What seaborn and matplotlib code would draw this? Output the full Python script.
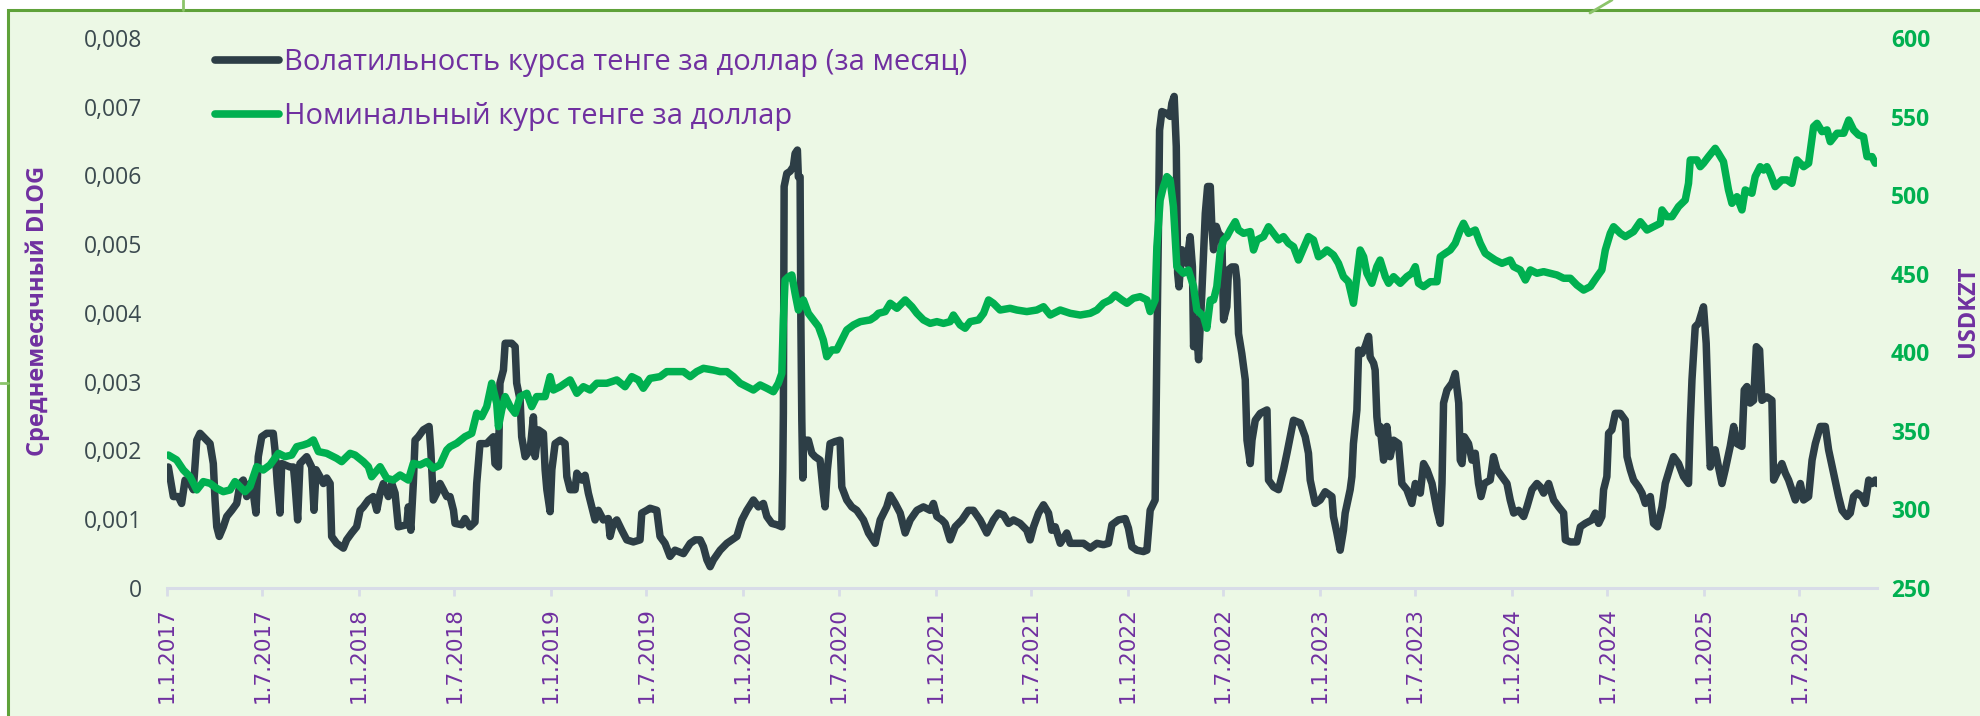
import numpy as np
import pandas as pd
import matplotlib
matplotlib.use("Agg")
import matplotlib.pyplot as plt
import seaborn as sns
from matplotlib.lines import Line2D
from matplotlib.patches import Rectangle

# ---------------- data ----------------
# time in decimal years, volatility in units of 0.001
vol_t = [2017.007, 2017.033, 2017.059, 2017.076, 2017.094, 2017.120, 2017.137, 2017.155, 2017.172, 2017.207,
         2017.224, 2017.241, 2017.250, 2017.259, 2017.272, 2017.293, 2017.311, 2017.337, 2017.363, 2017.380,
         2017.397, 2017.415, 2017.432, 2017.449, 2017.463, 2017.475, 2017.493, 2017.519, 2017.553, 2017.562,
         2017.574, 2017.588, 2017.597, 2017.640, 2017.658, 2017.666, 2017.680, 2017.692, 2017.727, 2017.753,
         2017.765, 2017.776, 2017.796, 2017.814, 2017.831, 2017.849, 2017.857, 2017.883, 2017.918, 2017.935,
         2017.961, 2017.987, 2018.005, 2018.022, 2018.048, 2018.074, 2018.092, 2018.109, 2018.126, 2018.152,
         2018.170, 2018.187, 2018.204, 2018.248, 2018.256, 2018.269, 2018.282, 2018.291, 2018.308, 2018.334,
         2018.364, 2018.373, 2018.386, 2018.404, 2018.421, 2018.438, 2018.456,
         2018.473, 2018.491, 2018.499, 2018.534, 2018.551, 2018.577, 2018.603, 2018.612, 2018.629, 2018.664,
         2018.681, 2018.699, 2018.707, 2018.725, 2018.733, 2018.751, 2018.760, 2018.794, 2018.812, 2018.820,
         2018.838, 2018.846, 2018.864, 2018.890, 2018.907, 2018.916, 2018.933, 2018.959, 2018.968, 2018.977,
         2018.994, 2019.003, 2019.020, 2019.046, 2019.072, 2019.081, 2019.098, 2019.124, 2019.133, 2019.159,
         2019.176, 2019.193, 2019.211, 2019.228, 2019.245, 2019.271, 2019.297, 2019.306, 2019.323, 2019.341,
         2019.367, 2019.393, 2019.427, 2019.462, 2019.471, 2019.497, 2019.514, 2019.549, 2019.566, 2019.592,
         2019.618, 2019.644, 2019.688, 2019.723, 2019.749, 2019.775, 2019.792, 2019.810, 2019.827, 2019.844,
         2019.879, 2019.914, 2019.940, 2019.966,
         2019.992, 2020.018, 2020.052, 2020.078, 2020.104, 2020.122, 2020.148, 2020.174, 2020.200, 2020.205,
         2020.208, 2020.212, 2020.226, 2020.243, 2020.260, 2020.269, 2020.281, 2020.286, 2020.295, 2020.299,
         2020.304, 2020.309, 2020.312, 2020.338, 2020.356, 2020.373, 2020.399, 2020.416, 2020.425, 2020.437,
         2020.451, 2020.477, 2020.503, 2020.512, 2020.538, 2020.564, 2020.590, 2020.625, 2020.651, 2020.686,
         2020.712, 2020.746, 2020.764, 2020.790, 2020.816, 2020.842, 2020.868, 2020.903, 2020.937, 2020.972,
         2020.989, 2021.007, 2021.033, 2021.050, 2021.076, 2021.102, 2021.137, 2021.171, 2021.197, 2021.232,
         2021.267, 2021.301, 2021.327, 2021.354, 2021.380, 2021.406, 2021.440, 2021.475, 2021.492,
         2021.510, 2021.536, 2021.562, 2021.588, 2021.605, 2021.623, 2021.649, 2021.683, 2021.701, 2021.735,
         2021.770, 2021.805, 2021.840, 2021.874, 2021.900, 2021.918, 2021.952, 2021.987, 2022.004, 2022.022,
         2022.048, 2022.082, 2022.100, 2022.117, 2022.143, 2022.152, 2022.160, 2022.166, 2022.178, 2022.204,
         2022.221, 2022.230, 2022.242, 2022.253, 2022.260, 2022.267, 2022.282, 2022.294, 2022.308, 2022.325,
         2022.337, 2022.343, 2022.355, 2022.369, 2022.386, 2022.404, 2022.416, 2022.430, 2022.438, 2022.447,
         2022.461, 2022.473, 2022.490, 2022.499, 2022.516, 2022.525, 2022.542, 2022.560, 2022.568, 2022.577,
         2022.594, 2022.612, 2022.621, 2022.638, 2022.647, 2022.664, 2022.690, 2022.725, 2022.733, 2022.759,
         2022.785, 2022.811, 2022.829, 2022.846, 2022.863, 2022.898, 2022.924, 2022.941, 2022.950, 2022.976,
         2023.002, 2023.028, 2023.063, 2023.071, 2023.089, 2023.106, 2023.123, 2023.132, 2023.158, 2023.167,
         2023.175, 2023.193, 2023.202, 2023.219, 2023.236, 2023.254, 2023.262, 2023.280, 2023.288, 2023.297,
         2023.306, 2023.314, 2023.332, 2023.349, 2023.366, 2023.384, 2023.410, 2023.427, 2023.453, 2023.479,
         2023.497, 2023.523, 2023.540, 2023.558, 2023.584, 2023.610, 2023.627, 2023.636, 2023.644, 2023.662,
         2023.688, 2023.705, 2023.723, 2023.731, 2023.740, 2023.752, 2023.774, 2023.792, 2023.809, 2023.826,
         2023.839, 2023.856, 2023.887, 2023.904, 2023.922, 2023.948, 2023.974, 2023.991, 2024.009, 2024.035,
         2024.061, 2024.078, 2024.104, 2024.130, 2024.148, 2024.165, 2024.191, 2024.217, 2024.243, 2024.269,
         2024.278, 2024.304, 2024.338, 2024.356, 2024.382, 2024.416, 2024.434, 2024.451, 2024.468,
         2024.477, 2024.494, 2024.503, 2024.520, 2024.538, 2024.564, 2024.590, 2024.599, 2024.616, 2024.633,
         2024.659, 2024.677, 2024.694, 2024.720, 2024.737, 2024.758, 2024.781, 2024.798, 2024.824, 2024.841,
         2024.867, 2024.893, 2024.919, 2024.928, 2024.937, 2024.954, 2024.971, 2024.997, 2025.011, 2025.023,
         2025.032, 2025.058, 2025.075, 2025.093, 2025.110, 2025.136, 2025.154, 2025.171, 2025.197, 2025.209,
         2025.223, 2025.240, 2025.258, 2025.272, 2025.289, 2025.301, 2025.327, 2025.353, 2025.362, 2025.379,
         2025.405, 2025.423, 2025.440, 2025.457, 2025.475, 2025.501, 2025.518, 2025.544, 2025.562, 2025.579,
         2025.605, 2025.631, 2025.648, 2025.674, 2025.700, 2025.718, 2025.744, 2025.761, 2025.778, 2025.796,
         2025.822, 2025.839, 2025.857, 2025.874, 2025.891, 2025.900]
vol_v = [1.76, 1.33, 1.33, 1.23, 1.57, 1.52, 1.43, 2.15, 2.25, 2.15,
         2.10, 1.81, 1.28, 0.89, 0.75, 0.89, 1.04, 1.13, 1.23, 1.52,
         1.57, 1.33, 1.52, 1.38, 1.09, 1.91, 2.20, 2.25, 2.25, 2.01,
         1.52, 1.09, 1.81, 1.76, 1.76, 1.52, 0.99, 1.81, 1.91, 1.76,
         1.13, 1.72, 1.62, 1.52, 1.60, 1.52, 0.75, 0.65, 0.58, 0.70,
         0.80, 0.89, 1.13, 1.18, 1.28, 1.33, 1.13, 1.38, 1.52, 1.33,
         1.52, 1.38, 0.89, 0.92, 1.18, 0.84, 1.52, 2.15, 2.20, 2.30,
         2.35, 2.01, 1.28, 1.38, 1.52, 1.43, 1.33,
         1.33, 1.13, 0.94, 0.92, 1.01, 0.89, 0.96, 1.52, 2.10, 2.10,
         2.15, 2.20, 1.81, 1.76, 2.98, 3.17, 3.56, 3.56, 3.51, 2.98,
         2.73, 2.20, 1.91, 2.01, 2.49, 1.91, 2.30, 2.25, 1.72, 1.43,
         1.11, 1.72, 2.10, 2.15, 2.10, 1.62, 1.43, 1.43, 1.67, 1.57,
         1.64, 1.38, 1.18, 0.99, 1.13, 0.99, 1.01, 0.75, 0.94, 0.99,
         0.84, 0.70, 0.67, 0.70, 1.09, 1.13, 1.16, 1.13, 0.75, 0.65,
         0.46, 0.55, 0.50, 0.65, 0.70, 0.70, 0.60, 0.41, 0.31, 0.41,
         0.55, 0.65, 0.70, 0.75,
         0.99, 1.13, 1.28, 1.18, 1.23, 1.04, 0.94, 0.92, 0.89, 1.72,
         2.54, 5.84, 6.03, 6.06, 6.13, 6.32, 6.37, 5.98, 5.98, 3.90,
         2.44, 1.60, 2.15, 2.15, 1.96, 1.91, 1.86, 1.38, 1.18, 1.72,
         2.10, 2.13, 2.15, 1.47, 1.28, 1.18, 1.13, 0.99, 0.80, 0.65,
         0.99, 1.18, 1.35, 1.23, 1.09, 0.80, 0.99, 1.13, 1.18, 1.13,
         1.23, 1.04, 0.99, 0.94, 0.70, 0.89, 0.99, 1.13, 1.13, 0.99,
         0.80, 0.99, 1.09, 1.06, 0.94, 0.99, 0.94, 0.84, 0.70,
         0.89, 1.09, 1.21, 1.09, 0.84, 0.89, 0.65, 0.80, 0.65, 0.65,
         0.65, 0.58, 0.65, 0.63, 0.65, 0.92, 0.99, 1.01, 0.87, 0.60,
         0.55, 0.53, 0.55, 1.13, 1.28, 3.51, 5.21, 6.66, 6.93, 6.90,
         6.86, 7.05, 7.15, 6.42, 4.58, 4.38, 4.92, 4.87, 4.72, 5.11,
         4.67, 3.51, 3.90, 3.32, 4.29, 5.45, 5.84, 5.84, 5.26, 4.92,
         5.26, 5.16, 5.11, 3.90, 4.09, 4.63, 4.67, 4.67, 4.48, 3.70,
         3.41, 3.03, 2.15, 1.81, 2.15, 2.44, 2.54, 2.59, 1.57, 1.47,
         1.43, 1.72, 1.96, 2.20, 2.44, 2.40, 2.20, 1.96, 1.57, 1.23,
         1.28, 1.40, 1.33, 1.04, 0.80, 0.55, 0.84, 1.09, 1.43, 1.62,
         2.10, 2.59, 3.46, 3.41, 3.51, 3.66, 3.36, 3.27, 3.17, 2.49,
         2.25, 2.35, 1.86, 2.35, 1.91, 2.15, 2.10, 1.52, 1.43, 1.23,
         1.52, 1.38, 1.81, 1.72, 1.52, 1.13, 0.94, 1.52, 2.69, 2.88,
         2.98, 3.12, 2.69, 1.86, 1.81, 2.20, 2.10, 1.86, 1.96, 1.52,
         1.33, 1.52, 1.57, 1.91, 1.72, 1.62, 1.52, 1.28, 1.09, 1.13,
         1.04, 1.18, 1.43, 1.52, 1.47, 1.38, 1.52, 1.28, 1.18, 1.09,
         0.70, 0.67, 0.67, 0.89, 0.94, 0.99, 1.09, 0.94, 1.04,
         1.43, 1.62, 2.25, 2.30, 2.54, 2.54, 2.44, 1.91, 1.72, 1.57,
         1.47, 1.38, 1.23, 1.33, 0.94, 0.89, 1.18, 1.52, 1.76, 1.91,
         1.81, 1.62, 1.52, 2.40, 3.03, 3.80, 3.85, 4.09, 3.56, 2.49,
         1.76, 2.01, 1.76, 1.52, 1.72, 2.06, 2.35, 2.10, 2.06, 2.88,
         2.93, 2.69, 2.73, 3.51, 3.46, 2.73, 2.78, 2.73, 1.57, 1.67,
         1.81, 1.67, 1.57, 1.43, 1.28, 1.52, 1.28, 1.33, 1.86, 2.10,
         2.35, 2.35, 2.01, 1.67, 1.33, 1.13, 1.04, 1.09, 1.33, 1.38,
         1.33, 1.23, 1.57, 1.52, 1.57, 1.52]

kzt_t = [2017.007, 2017.050, 2017.085, 2017.120, 2017.155, 2017.189, 2017.224, 2017.259, 2017.293, 2017.328,
         2017.354, 2017.380, 2017.406, 2017.432, 2017.467, 2017.501, 2017.536, 2017.580, 2017.614, 2017.649,
         2017.675, 2017.710, 2017.736, 2017.762, 2017.788, 2017.831, 2017.883, 2017.909, 2017.953, 2017.979,
         2018.022, 2018.048, 2018.065, 2018.109, 2018.144, 2018.178, 2018.213, 2018.256, 2018.282, 2018.317,
         2018.352, 2018.386, 2018.421, 2018.456,
         2018.473, 2018.508, 2018.551, 2018.586, 2018.612, 2018.638, 2018.664, 2018.690, 2018.716, 2018.725,
         2018.742, 2018.760, 2018.786, 2018.812, 2018.838, 2018.873, 2018.898, 2018.924, 2018.968, 2018.994,
         2019.011, 2019.046, 2019.072, 2019.098, 2019.133, 2019.167, 2019.202, 2019.237, 2019.289, 2019.341,
         2019.384, 2019.419, 2019.453, 2019.479, 2019.514, 2019.566, 2019.601, 2019.653, 2019.688, 2019.723,
         2019.757, 2019.792, 2019.844, 2019.879, 2019.914, 2019.948, 2019.983,
         2020.018, 2020.052, 2020.087, 2020.122, 2020.156, 2020.182, 2020.200, 2020.208, 2020.217, 2020.235,
         2020.252, 2020.269, 2020.286, 2020.312, 2020.338, 2020.364, 2020.391, 2020.416, 2020.434, 2020.460,
         2020.486, 2020.512, 2020.538, 2020.573, 2020.608, 2020.660, 2020.686, 2020.703, 2020.738, 2020.764,
         2020.799, 2020.842, 2020.877, 2020.903, 2020.937, 2020.972, 2021.007, 2021.041, 2021.076, 2021.093,
         2021.128, 2021.154, 2021.180, 2021.224, 2021.250, 2021.276, 2021.301, 2021.336, 2021.388, 2021.423,
         2021.475,
         2021.527, 2021.562, 2021.597, 2021.649, 2021.701, 2021.753, 2021.805, 2021.840, 2021.874, 2021.909,
         2021.935, 2021.970, 2021.996, 2022.030, 2022.065, 2022.100, 2022.117, 2022.143, 2022.152, 2022.169,
         2022.186, 2022.204, 2022.221, 2022.238, 2022.256, 2022.273, 2022.290, 2022.316, 2022.343, 2022.360,
         2022.378, 2022.395, 2022.412, 2022.430, 2022.447, 2022.464, 2022.481, 2022.499, 2022.516, 2022.534,
         2022.560, 2022.577, 2022.603, 2022.638, 2022.655, 2022.673, 2022.707, 2022.733, 2022.759, 2022.785,
         2022.811, 2022.837, 2022.863, 2022.889, 2022.915, 2022.941, 2022.967, 2022.993, 2023.019,
         2023.037, 2023.071, 2023.097, 2023.123, 2023.149, 2023.175, 2023.193, 2023.210, 2023.228, 2023.245,
         2023.271, 2023.297, 2023.314, 2023.341, 2023.358, 2023.384, 2023.419, 2023.453, 2023.479, 2023.497,
         2023.514, 2023.540, 2023.575, 2023.610, 2023.627, 2023.653, 2023.679, 2023.705, 2023.731, 2023.748,
         2023.774, 2023.809, 2023.835, 2023.861, 2023.887, 2023.913, 2023.948, 2023.991, 2024.009, 2024.043,
         2024.070, 2024.096, 2024.130, 2024.165, 2024.199, 2024.234, 2024.269, 2024.304, 2024.338, 2024.373,
         2024.408, 2024.443, 2024.468, 2024.486, 2024.512, 2024.529, 2024.547, 2024.564,
         2024.590, 2024.633, 2024.668, 2024.703, 2024.737, 2024.772, 2024.781, 2024.807, 2024.833, 2024.867,
         2024.902, 2024.919, 2024.928, 2024.963, 2024.980, 2024.997, 2025.023, 2025.058, 2025.075, 2025.101,
         2025.127, 2025.145, 2025.171, 2025.197, 2025.214, 2025.249, 2025.266, 2025.292, 2025.310, 2025.327,
         2025.344, 2025.370, 2025.405, 2025.431, 2025.457, 2025.483, 2025.518, 2025.544, 2025.570, 2025.588,
         2025.614, 2025.640, 2025.657, 2025.692, 2025.727, 2025.753, 2025.778, 2025.804, 2025.830, 2025.848,
         2025.874, 2025.891]
kzt_v = [334.6, 331.5, 325.1, 320.8, 312.4, 317.7, 316.6, 313.4, 311.3, 312.4,
         317.7, 314.5, 311.3, 314.5, 327.2, 325.1, 328.3, 335.7, 333.6, 334.6,
         339.9, 341.0, 342.1, 344.2, 336.8, 335.7, 332.5, 330.4, 335.7, 334.6,
         330.4, 327.2, 320.8, 327.2, 319.8, 318.7, 321.9, 318.7, 329.3, 328.3,
         330.4, 326.2, 328.3, 337.8,
         339.9, 342.1, 346.3, 348.4, 361.2, 359.0, 365.4, 380.3, 367.5, 352.7,
         363.3, 371.8, 365.4, 361.2, 371.8, 373.9, 365.4, 371.8, 371.8, 384.5,
         376.0, 378.1, 380.3, 382.4, 373.9, 378.1, 376.0, 380.3, 380.3, 382.4,
         378.1, 384.5, 382.4, 377.1, 383.4, 384.5, 387.7, 387.7, 387.7, 384.5,
         387.7, 389.8, 388.7, 387.7, 387.7, 384.5, 380.3,
         378.1, 376.0, 379.2, 377.1, 374.9, 380.3, 386.6, 420.6, 446.0, 448.1,
         449.2, 437.5, 426.9, 433.3, 424.8, 420.6, 416.3, 407.8, 397.2, 401.5,
         401.5, 407.8, 414.2, 417.4, 419.5, 420.6, 422.7, 424.8, 425.9, 431.2,
         428.0, 433.3, 429.0, 424.8, 420.6, 418.4, 419.5, 418.4, 419.5, 423.7,
         417.4, 415.3, 419.5, 420.6, 424.8, 433.3, 431.2, 426.9, 428.0, 426.9,
         425.9,
         426.9, 429.0, 423.7, 426.9, 424.8, 423.7, 424.8, 426.9, 431.2, 433.3,
         436.5, 433.3, 431.2, 434.4, 435.4, 433.3, 425.9, 433.3, 467.2, 496.9,
         505.4, 511.8, 509.7, 492.7, 454.5, 452.4, 450.3, 452.4, 441.8, 426.9,
         424.8, 422.7, 415.3, 433.3, 433.3, 441.8, 463.0, 471.5, 473.6, 477.8,
         483.1, 477.8, 475.7, 476.8, 465.1, 471.5, 473.6, 479.9, 475.7, 471.5,
         473.6, 469.4, 467.2, 458.7, 466.2, 473.6, 471.5, 460.8, 463.0,
         465.1, 461.9, 456.6, 448.1, 444.9, 431.2, 448.1, 465.1, 460.8, 450.3,
         443.9, 454.5, 458.7, 448.1, 443.9, 448.1, 443.9, 448.1, 450.3, 454.5,
         443.9, 441.8, 444.9, 444.9, 460.8, 463.0, 465.1, 469.4, 477.8, 482.1,
         475.7, 477.8, 469.4, 463.0, 460.8, 458.7, 456.6, 458.7, 454.5, 452.4,
         446.0, 452.4, 450.3, 451.3, 450.3, 449.2, 447.1, 447.1, 442.8, 439.6,
         441.8, 448.1, 452.4, 465.1, 475.7, 479.9, 477.8, 475.7,
         473.6, 476.8, 483.1, 477.8, 479.9, 482.1, 490.6, 486.3, 486.3, 492.7,
         496.9, 507.5, 522.4, 522.4, 518.1, 520.3, 524.5, 529.8, 526.6, 521.3,
         503.3, 494.8, 499.0, 490.6, 503.3, 501.2, 511.8, 518.1, 516.0, 518.1,
         513.9, 505.4, 509.7, 509.7, 507.5, 522.4, 518.1, 520.3, 543.6, 545.7,
         540.4, 541.5, 534.0, 539.4, 539.4, 547.8, 541.5, 538.3, 537.2, 524.5,
         524.5, 520.3]

x_tick_dates = ["2017-01-01", "2017-07-01", "2018-01-01", "2018-07-01", "2019-01-01", "2019-07-01",
                "2020-01-01", "2020-07-01", "2021-01-01", "2021-07-01", "2022-01-01", "2022-07-01",
                "2023-01-01", "2023-07-01", "2024-01-01", "2024-07-01", "2025-01-01", "2025-07-01"]
left_ticks = [0, 0.001, 0.002, 0.003, 0.004, 0.005, 0.006, 0.007, 0.008]
right_ticks = [250, 300, 350, 400, 450, 500, 550, 600]
x_start, x_end = 2017.0, 2025.900

label_vol = "Волатильность курса тенге за доллар (за месяц)"
label_kzt = "Номинальный курс тенге за доллар"
ylabel_left = "Среднемесячный DLOG"
ylabel_right = "USDKZT"

# ---------------- helpers ----------------
BASE = pd.Timestamp("2017-01-01")


def to_date(y):
    return BASE + pd.to_timedelta((np.asarray(y, dtype=float) - 2017.0) * 365.25, unit="D")


df_vol = pd.DataFrame({"date": to_date(vol_t), "vol": np.array(vol_v) / 1000.0})
df_kzt = pd.DataFrame({"date": to_date(kzt_t), "kzt": kzt_v})

# ---------------- style ----------------
sns.set_theme(style="white")
plt.rcParams["font.family"] = ["Open Sans", "DejaVu Sans"]

BG = "#ECF8E5"
DARK = "#2D3E46"
GREEN = "#00B050"
PURPLE = "#7030A0"
W, H = 1981, 716

fig = plt.figure(figsize=(W / 100, H / 100), dpi=100)
fig.patch.set_facecolor("white")

# frame / background (drawn beneath the axes)
frame = Rectangle((8 / W, -0.05), 1.2, 1 - 10 / H + 0.05, transform=fig.transFigure,
                  facecolor=BG, edgecolor="#5FA23A", linewidth=2.2, zorder=-10)
fig.add_artist(frame)
for xs, ys in (([183 / W, 183 / W], [1, 1 - 10 / H]),
               ([0, 8 / W], [1 - 383 / H, 1 - 383 / H]),
               ([1590 / W, 1612 / W], [1 - 13 / H, 1.0])):
    fig.add_artist(Line2D(xs, ys, transform=fig.transFigure, color="#8CC46A", linewidth=2, zorder=-9))

ax = fig.add_axes([167 / W, 1 - 588 / H, (1877 - 167) / W, (588 - 38) / H])
ax.set_zorder(1)
ax.patch.set_visible(False)
ax2 = ax.twinx()
ax2.set_zorder(2)
ax2.patch.set_visible(False)

sns.lineplot(data=df_vol, x="date", y="vol", ax=ax, color=DARK, linewidth=5.4,
             solid_joinstyle="round", solid_capstyle="round", legend=False)
sns.lineplot(data=df_kzt, x="date", y="kzt", ax=ax2, color=GREEN, linewidth=5.4,
             solid_joinstyle="round", solid_capstyle="round", legend=False)

ax.set_xlim(to_date([x_start])[0], to_date([x_end])[0])
ax.set_ylim(0, 0.008)
ax2.set_ylim(250, 600)

ax.set_yticks(left_ticks)
ax.set_yticklabels(["0" if v == 0 else f"{v:.3f}".replace(".", ",") for v in left_ticks],
                   color="#3B4A4F", fontsize=16.5)
ax2.set_yticks(right_ticks)
ax2.set_yticklabels([str(v) for v in right_ticks], color=GREEN, fontsize=16.5, fontweight="bold")

xt = pd.to_datetime(x_tick_dates)
ax.set_xticks(xt)
ax.set_xticklabels([f"{d.day}.{d.month}.{d.year}" for d in xt], rotation=90,
                   color=PURPLE, fontsize=15.5, family=["DejaVu Sans"])

ax.tick_params(axis="y", length=0, pad=18)
ax2.tick_params(axis="y", length=0, pad=10)
ax.tick_params(axis="x", length=6, width=2, color="#D8DCE8", pad=8, bottom=True)
ax.set_xlabel("")
ax.set_ylabel("")
ax2.set_ylabel("")

for a in (ax, ax2):
    for s in ("top", "left", "right", "bottom"):
        a.spines[s].set_visible(False)
ax.spines["bottom"].set_visible(True)
ax.spines["bottom"].set_color("#D8DCE8")
ax.spines["bottom"].set_linewidth(2.2)
ax.grid(False)
ax2.grid(False)

fig.text(38 / W, 1 - 311 / H, ylabel_left, rotation=90, ha="center", va="center",
         color=PURPLE, fontsize=17, fontweight="bold")
fig.text(1968 / W, 1 - 311 / H, ylabel_right, rotation=90, ha="center", va="center",
         color=PURPLE, fontsize=17, fontweight="bold")

handles = [Line2D([0], [0], color=DARK, linewidth=5.5, solid_capstyle="round"),
           Line2D([0], [0], color=GREEN, linewidth=5.5, solid_capstyle="round")]
leg = ax2.legend(handles, [label_vol, label_kzt], loc="upper left",
                 bbox_to_anchor=(215 / W, 1 - 48 / H), bbox_transform=fig.transFigure,
                 frameon=False, borderpad=0, borderaxespad=0, handlelength=2.2,
                 handletextpad=0.15, labelspacing=0.85, fontsize=21, labelcolor=PURPLE)

fig.savefig("out.png", dpi=100, facecolor=fig.get_facecolor())
